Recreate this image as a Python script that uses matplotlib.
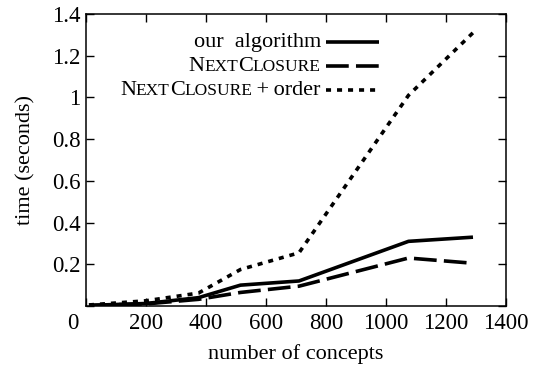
import matplotlib
matplotlib.use("Agg")
import matplotlib.pyplot as plt
from matplotlib.lines import Line2D
from matplotlib.offsetbox import TextArea, DrawingArea, HPacker, VPacker, AnchoredOffsetbox

plt.rcParams['font.family'] = ['Liberation Serif', 'DejaVu Serif']

# data
concepts = [10, 200, 375, 515, 710, 1075, 1290]
ours = [0.003, 0.012, 0.04, 0.10, 0.12, 0.31, 0.33]
nextclosure = [0.003, 0.010, 0.032, 0.065, 0.095, 0.23, 0.205]
nextclosure_order = [0.005, 0.025, 0.062, 0.175, 0.255, 1.01, 1.31]

FS = 16
TFS = 16.5
LW = 2.6
styles = [
    dict(ls='-'),
    dict(ls=(0, (6.3, 2.0))),
    dict(ls=(0, (1.4, 1.65))),
]
series = [ours, nextclosure, nextclosure_order]

fig = plt.figure(figsize=(5.36, 3.67), dpi=100)
ax = fig.add_axes([0.1604, 0.1662, 0.7836, 0.7957])

for ys, st in zip(series, styles):
    ax.plot(concepts, ys, color='black', lw=LW, solid_capstyle='butt',
            dash_capstyle='butt', **st)

ax.set_xlim(0, 1400)
ax.set_ylim(0, 1.4)
xt = list(range(0, 1401, 200))
yt = [0, 0.2, 0.4, 0.6, 0.8, 1.0, 1.2, 1.4]
ax.set_xticks(xt)
ax.set_xticklabels([''] + [str(v) for v in xt[1:]])
ax.set_yticks(yt)
ax.set_yticklabels([''] + ['0.2', '0.4', '0.6', '0.8', '1', '1.2', '1.4'])
ax.tick_params(direction='in', length=6, width=1, top=True, right=True,
               labelsize=TFS)
ax.tick_params(axis='x', pad=5)
ax.tick_params(axis='y', pad=4)
for s in ax.spines.values():
    s.set_linewidth(1.1)
ax.annotate('0', xy=(0, 0), xycoords='data', xytext=(-5.5, -5),
            textcoords='offset points', ha='right', va='top', fontsize=TFS)

ax.set_xlabel('number of concepts', fontsize=FS, labelpad=7)
ax.set_ylabel('time (seconds)', fontsize=FS, labelpad=12)

# legend with small caps labels
def smallcaps(parts):
    boxes = []
    for txt, big in parts:
        boxes.append(TextArea(txt, textprops=dict(fontsize=FS if big else FS * 0.78)))
    return boxes

def sample(st):
    da = DrawingArea(38, 10, 0, 0)
    da.add_artist(Line2D([0, 38], [5, 5], color='black', lw=LW,
                         solid_capstyle='butt', dash_capstyle='butt', **st))
    return da

label_parts = [
    [('our  algorithm', True)],
    [('N', True), ('EXT', False), ('C', True), ('LOSURE', False)],
    [('N', True), ('EXT', False), ('C', True), ('LOSURE', False), ('\u2009+\u2009order', True)],
]
rows = []
for parts, st in zip(label_parts, styles):
    txt = HPacker(children=smallcaps(parts), pad=0, sep=0, align='baseline')
    rows.append(HPacker(children=[txt, sample(st)], pad=0, sep=4, align='center'))
leg = VPacker(children=rows, pad=0, sep=3.5, align='right')
anch = AnchoredOffsetbox(loc='upper right', child=leg, frameon=False,
                         bbox_to_anchor=(0.698, 0.935), bbox_transform=ax.transAxes,
                         borderpad=0, pad=0)
ax.add_artist(anch)

fig.savefig('out.png', dpi=100)
